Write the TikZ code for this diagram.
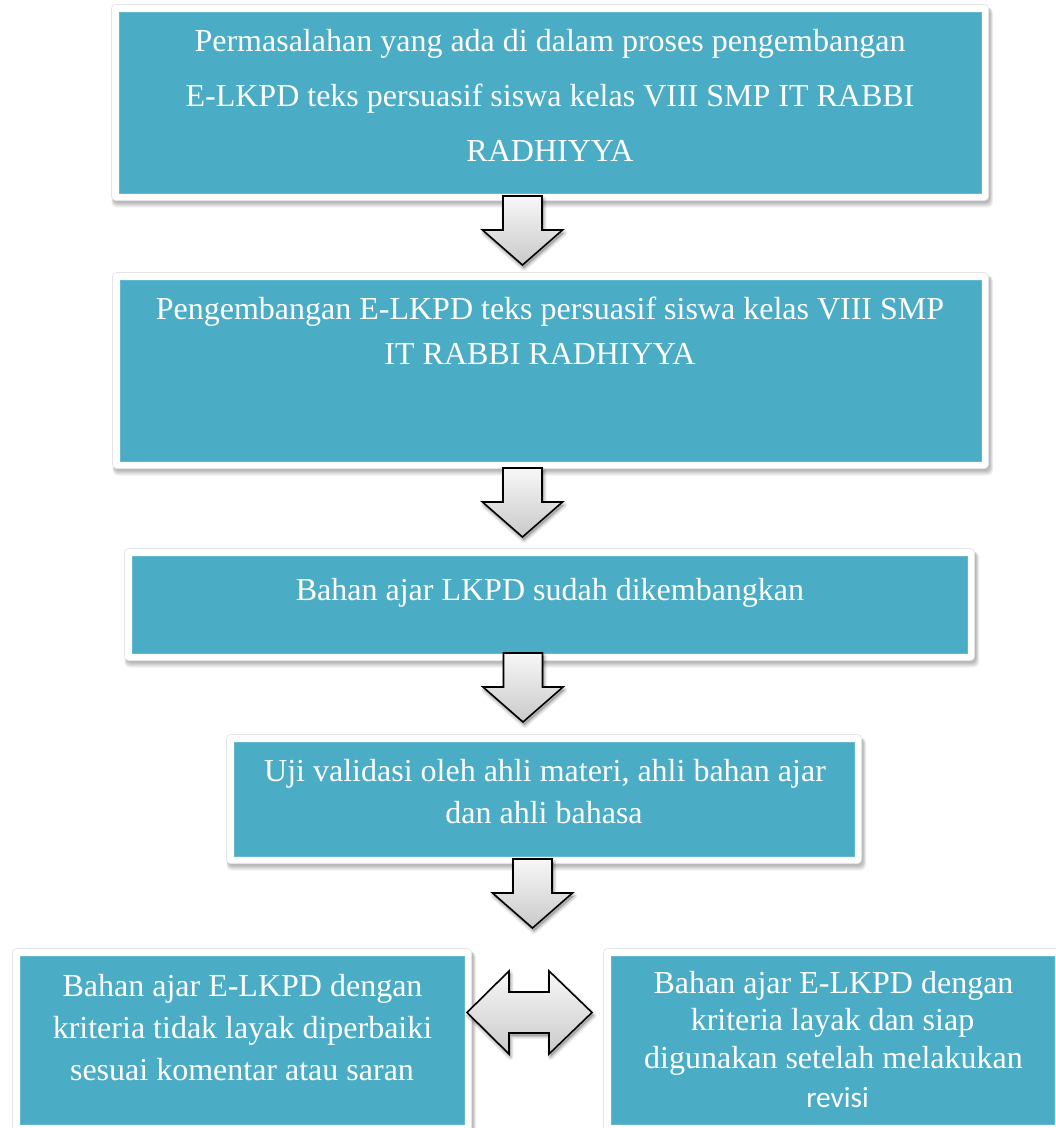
\documentclass[tikz,border=0pt]{standalone}
\usepackage{fontspec}
\setmainfont{Liberation Serif}
\newfontfamily\calibrifont{Carlito}
\definecolor{panelteal}{HTML}{4BACC6}
\definecolor{frameedge}{HTML}{E4E4E4}

% panel: shadow, white rounded frame, teal face; #1 name, #2..#5 teal face x1,y1,x2,y2
\newcommand\panel[5]{%
  \foreach \k in {1,...,5}
    \fill[panelshadow, rounded corners=5pt]
      ({#2-7.5+2-\k*0.4},{#3-7.5+3}) rectangle ({#4+7.5+1+\k*0.7},{#5+7.5+1.5+\k*1.1});
  \node[framebox, minimum width={#4-#2+15}, minimum height={#5-#3+15}]
    (f#1) at ({(#2+#4)/2},{(#3+#5)/2}) {};
  \node[tealbox, minimum width={#4-#2}, minimum height={#5-#3}]
    (#1) at ({(#2+#4)/2},{(#3+#5)/2}) {};
}

% block arrow pointing down; #1 name, #2 centre x, #3 top y
\newcommand\downblock[3]{%
  \foreach \k in {1,...,4}
    \draw[arrowshadow, line width=\k*1.6pt, shift={(1.5,3)}]
      (#2-19.5,#3) -- (#2+19.5,#3) -- (#2+19.5,#3+34) -- (#2+40,#3+34)
      -- (#2,#3+69) -- (#2-40,#3+34) -- (#2-19.5,#3+34) -- cycle;
  \draw[blockarrow]
    (#2-19.5,#3) -- (#2+19.5,#3) -- (#2+19.5,#3+34) -- (#2+40,#3+34)
    -- (#2,#3+69) -- (#2-40,#3+34) -- (#2-19.5,#3+34) -- cycle;
  \coordinate (#1) at (#2,#3);
}

\begin{document}
\begin{tikzpicture}[x=1pt, y=-1pt,
  panelshadow/.style={fill=black, opacity=0.06},
  arrowshadow/.style={draw=black, fill=black, opacity=0.05, line join=round},
  framebox/.style={draw=frameedge, line width=0.6pt, fill=white, rounded corners=4pt, inner sep=0pt},
  tealbox/.style={draw=panelteal!85!white, line width=0.6pt, fill=panelteal, inner sep=0pt},
  blockarrow/.style={draw=black, line width=1.6pt, line join=miter, top color=gray!6, bottom color=gray!42},
  txt/.style={anchor=base, text=white, inner sep=0pt, font=\fontsize{32}{38}\selectfont},
  sanstxt/.style={anchor=base, text=white, inner sep=0pt, font=\calibrifont\fontsize{29.3}{35}\selectfont}]

\clip (0,0) rectangle (1056,1128);
\fill[white] (0,0) rectangle (1056,1128);

% panels
\panel{p1}{119}{12}{981}{193}
\panel{p2}{120}{280}{981}{461}
\panel{p3}{132}{556}{967}{653}
\panel{p4}{234}{742}{854}{856}
\panel{p5}{20}{956}{464}{1124}
\panel{p6}{611}{956}{1054}{1124}

% texts
\node[txt] (p1-1) at (550,51)  {Permasalahan yang ada di dalam proses pengembangan};
\node[txt] (p1-2) at (550,106) {E-LKPD teks persuasif siswa kelas VIII SMP IT RABBI};
\node[txt] (p1-3) at (550,161) {RADHIYYA};

\node[txt] (p2-1) at (550,319) {Pengembangan E-LKPD teks persuasif siswa kelas VIII SMP};
\node[txt] (p2-2) at (540,364) {IT RABBI RADHIYYA};

\node[txt] (p3-1) at (550,600) {Bahan ajar LKPD sudah dikembangkan};

\node[txt] (p4-1) at (545,781) {Uji validasi oleh ahli materi, ahli bahan ajar};
\node[txt] (p4-2) at (544,823) {dan ahli bahasa};

\node[txt] (p5-1) at (242.5,996)  {Bahan ajar E-LKPD dengan};
\node[txt] (p5-2) at (242.5,1038) {kriteria tidak layak diperbaiki};
\node[txt] (p5-3) at (242,1080)   {sesuai komentar atau saran};

\node[txt] (p6-1) at (833.5,993)  {Bahan ajar E-LKPD dengan};
\node[txt] (p6-2) at (832.5,1030) {kriteria layak dan siap};
\node[txt] (p6-3) at (833.5,1068) {digunakan setelah melakukan};
\node[sanstxt] (p6-4) at (837.5,1107) {revisi};

% block arrows between panels
\downblock{a1}{522.5}{196}
\downblock{a2}{522.5}{468}
\downblock{a3}{523}{653}
\downblock{a4}{532.5}{859}

% two-headed block arrow between the bottom panels
\foreach \k in {1,...,4}
  \draw[arrowshadow, line width=\k*1.6pt, shift={(1.5,3)}]
    (467,1012.5) -- (509,971) -- (509,992) -- (549,992) -- (549,971) -- (592,1012.5)
    -- (549,1054) -- (549,1033) -- (509,1033) -- (509,1054) -- cycle;
\draw[blockarrow]
  (467,1012.5) -- (509,971) -- (509,992) -- (549,992) -- (549,971) -- (592,1012.5)
  -- (549,1054) -- (549,1033) -- (509,1033) -- (509,1054) -- cycle;
\coordinate (a5) at (529.5,1012.5);

\end{tikzpicture}
\end{document}
